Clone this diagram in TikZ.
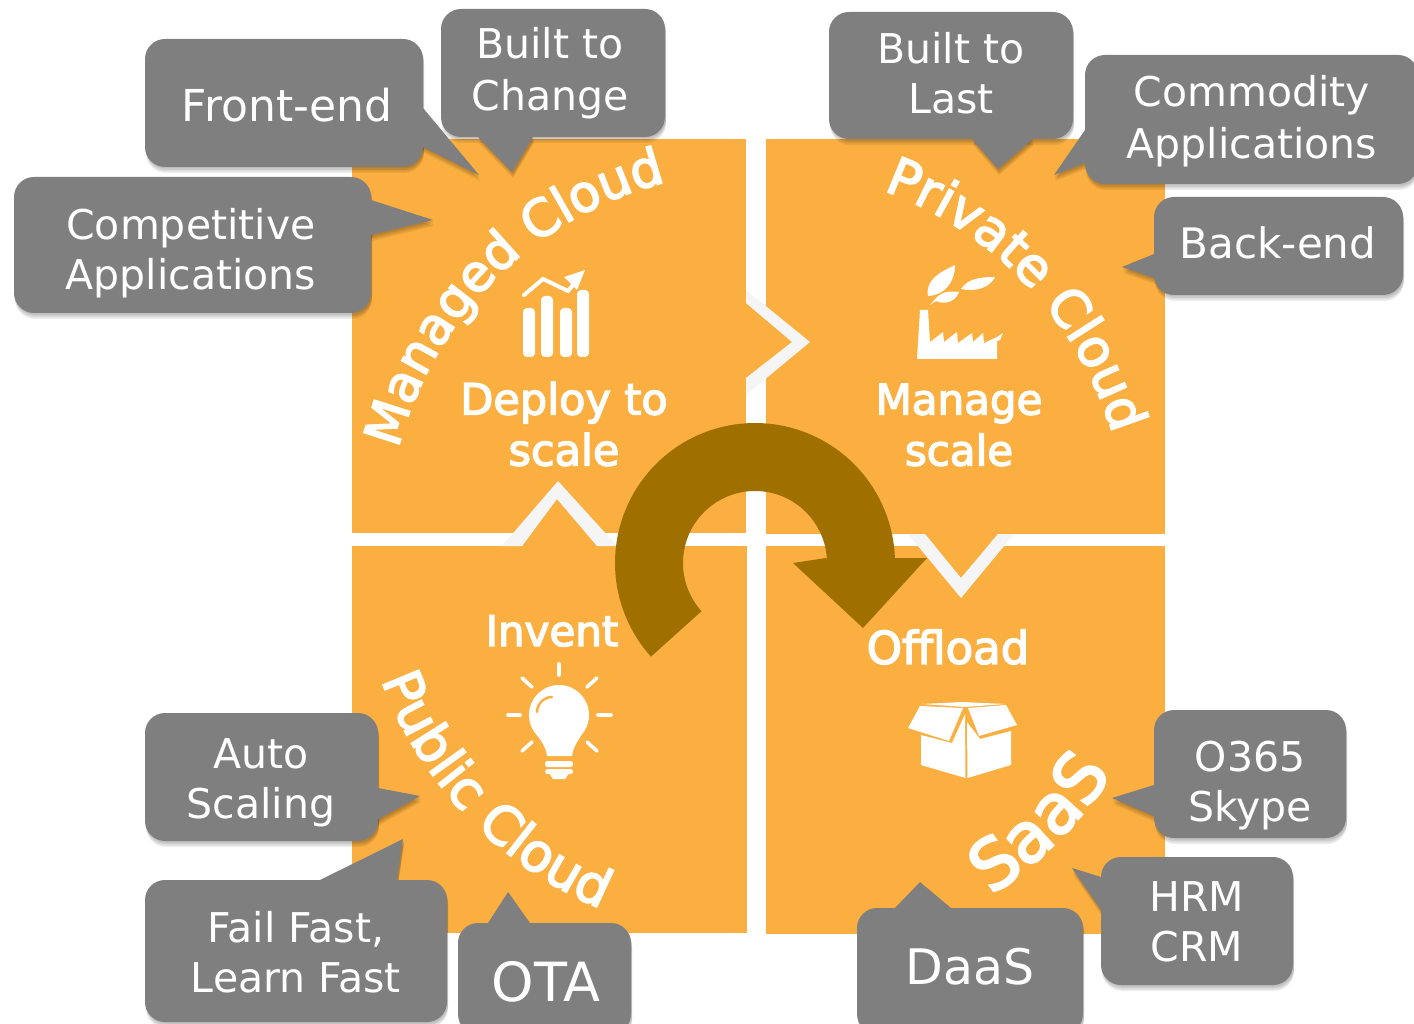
\documentclass[tikz,border=0pt]{standalone}
\usepackage{fontspec}
\setmainfont{DejaVu Sans}
\newfontfamily\semibold[FakeBold=3.2]{DejaVu Sans}
\usetikzlibrary{decorations.text}
\definecolor{quad}{HTML}{FBAF40}
\definecolor{bubble}{HTML}{7F7F7F}
\definecolor{turn}{HTML}{9F7000}
\definecolor{pale}{HTML}{F5F5F5}
\tikzset{
  quadrant/.style={fill=quad},
  notch/.style={fill=pale},
  icon/.style={fill=white},
  rays/.style={draw=white,line width=3.6pt,line cap=round},
  saytext/.style={text=white,align=center,inner sep=0pt,font=\fontsize{41}{50}\selectfont},
  widetext/.style={text=white,align=center,inner sep=0pt,font=\fontsize{41}{52}\selectfont},
  headtext/.style={text=white,align=center,inner sep=0pt,font=\semibold\fontsize{43}{51}\selectfont},
  curved/.style={decorate,decoration={text along path,text={#1}}}
}
\newcommand\callout[5]{%
  \foreach \dy in {1.5,3,4.5,6}{%
    \path[fill=black,opacity=.07,rounded corners=20,shift={(1,\dy)}] (#1,#2) rectangle (#3,#4);
    \path[fill=black,opacity=.07,shift={(1,\dy)}] #5 -- cycle;
  }%
  \path[fill=bubble,rounded corners=20] (#1,#2) rectangle (#3,#4);
  \path[fill=bubble] #5 -- cycle;
}
\newcommand\fmtA{\semibold\color{white}\fontsize{51}{50}\selectfont}
\newcommand\fmtB{\semibold\color{white}\fontsize{52}{50}\selectfont}
\newcommand\fmtC{\semibold\color{white}\fontsize{53}{50}\selectfont}
\newcommand\fmtD{\semibold\color{white}\fontsize{69}{50}\selectfont}
\begin{document}
\begin{tikzpicture}[x=1pt,y=-1pt]
\useasboundingbox (0,0) rectangle (1414,1024);
% quadrants
\path[quadrant] (352,139) rectangle (746,533);
\path[quadrant] (766,139) rectangle (1165,534);
\path[quadrant] (352,546) rectangle (747,933);
\path[quadrant] (766,546) rectangle (1165,934);
% interlocking wedges
\path[quadrant] (740,303) -- (746,303) -- (792,342) -- (746,378) -- (740,378) -- cycle;
\path[quadrant] (522,552) -- (522,546) -- (557,499) -- (597,546) -- (597,552) -- cycle;
\path[quadrant] (925,528) -- (925,534) -- (961,578) -- (998,534) -- (998,528) -- cycle;
\path[notch] (746,290) -- (810,342) -- (746,395) -- (746,378) -- (792,342) -- (746,303) -- cycle;
\path[notch] (502,546) -- (558,481) -- (617,546) -- (597,546) -- (557,499) -- (522,546) -- cycle;
\path[notch] (908,534) -- (961,598) -- (1014,534) -- (998,534) -- (961,578) -- (925,534) -- cycle;
% turning arrow
\path[fill=turn] plot[domain=138:358,samples=90] ({755+140*cos(\x)},{563+140*sin(\x)})
  -- (893,558) -- (927,558) -- (863,628) -- (793,563) -- (826,558)
  -- plot[domain=358:138,samples=90] ({755+72*cos(\x)},{563+72*sin(\x)}) -- cycle;
% curved titles
\path[curved={|\fmtA|Managed Cloud}] plot[domain=194.3:264,samples=70] ({756+369*cos(\x)},{540+369*sin(\x)});
\path[curved={|\fmtB|Private Cloud}] plot[domain=290:354,samples=70] ({756+372*cos(\x)},{540+372*sin(\x)});
\path[curved={|\fmtC|Public Cloud}] plot[domain=159.5:103,samples=70] ({756+400*cos(\x)},{540+400*sin(\x)});
\path[curved={|\fmtD|SaaS}] plot[domain=56.5:24,samples=50] ({756+426*cos(\x)},{540+426*sin(\x)});
% head texts
\node[headtext] (deploy) at (564,424) {Deploy to\\scale};
\node[headtext,font=\semibold\fontsize{42}{51}\selectfont] (manage) at (959,425) {Manage\\scale};
\node[headtext,font=\semibold\fontsize{42}{51}\selectfont] (invent) at (552,631) {Invent};
\node[headtext,font=\semibold\fontsize{45}{51}\selectfont] (offload) at (948,647) {Offload};
% chart icon
\foreach \xa/\xb/\ya in {523/535/308,541/553/296,560/572/308,577/589/290}{
  \path[icon,rounded corners=4] (\xa,\ya) rectangle (\xb,357);
}
\draw[white,line width=4pt,line cap=round,line join=miter] (524,295) -- (543,279) -- (568,291) -- (578,279);
\path[icon] (585,270) -- (564,277) -- (577,290) -- cycle;
% factory icon
\path[icon] (917,359) -- (920,310) -- (928,310) -- (930,342) -- (943,332) -- (944,342) -- (957,332) -- (958,343) -- (972,333) -- (973,342) -- (983,333) -- (984,343) -- (997,337) -- (1003,333) -- (1000,340) -- (997,341) -- (997,359) -- cycle;
\path[icon] (928,296) .. controls (925,280) and (940,272) .. (955,265) .. controls (955,282) and (945,295) .. (928,296) -- cycle;
\path[icon] (961,289) .. controls (968,278) and (982,277) .. (995,277) .. controls (990,288) and (975,292) .. (961,289) -- cycle;
\path[icon] (930,305) -- (936,298) .. controls (943,291) and (950,291) .. (959,292) .. controls (955,302) and (945,305) .. (936,301) -- cycle;
% lamp icon
\draw[rays] (559,664) -- (559,675);
\draw[rays] (508,715) -- (520,715);
\draw[rays] (598,715) -- (611,715);
\draw[rays] (522,678) -- (532,687);
\draw[rays] (597,678) -- (587,687);
\draw[rays] (522,751) -- (532,742);
\draw[rays] (597,751) -- (587,742);
\path[icon] (559,715) circle (30);
\path[icon] (533,728) .. controls (538,738) and (546,745) .. (547,756) -- (572,756) .. controls (573,745) and (581,738) .. (585,728) -- cycle;
\draw[quad,line width=2.4pt,line cap=round] (537,712) .. controls (537,704) and (544,697) .. (552,697);
\path[icon,rounded corners=2.5] (545,761) rectangle (573,767);
\path[icon,rounded corners=2.5] (545,769) rectangle (573,774);
\path[icon] (549,773) -- (569,773) -- (565,779) -- (553,779) -- cycle;
% box icon
\path[icon] (921,735) -- (952,743) -- (965,714) -- (965.5,778) -- (921,765) -- cycle;
\path[icon] (967,722) -- (980,739) -- (1011,731) -- (1011,765) -- (967.5,778) -- cycle;
\path[icon] (908,728) -- (920,706) -- (963,708) -- (949,741) -- cycle;
\path[icon] (968,708) -- (1006,705) -- (1017,725) -- (979,736) -- cycle;
\path[icon] (922,704) -- (962,702) -- (1005,704) -- (965,707) -- cycle;
% callouts
\callout{145}{39}{423}{167}{(423,108) -- (479,175) -- (423,147) -- (400,130)}
\node[saytext,font=\fontsize{44}{50}\selectfont] (frontend) at (287,105) {Front-end};
\callout{441}{9}{665}{137}{(478,137) -- (512,172) -- (533,137) -- (505,120)}
\node[widetext] (change) at (550,73) {Built to\\Change};
\callout{14}{177}{371}{313}{(371,200) -- (433,220) -- (371,235) -- (350,218)}
\node[saytext] (competitive) at (191,253) {Competitive\\Applications};
\callout{829}{12}{1073}{139}{(972,139) -- (998,169) -- (1033,139) -- (1000,120)}
\node[saytext] (last) at (951,73) {Built to\\Last};
\callout{1085}{55}{1418}{184}{(1085,130) -- (1054,175) -- (1085,163) -- (1105,150)}
\node[widetext] (commodity) at (1252,121) {Commodity\\Applications};
\callout{1154}{197}{1403}{295}{(1154,254) -- (1122,267) -- (1154,278) -- (1175,266)}
\node[saytext,font=\fontsize{42}{50}\selectfont] (backend) at (1278,243) {Back-end};
\callout{145}{713}{378}{841}{(378,788) -- (420,796) -- (377,820) -- (355,800)}
\node[saytext] (auto) at (261,783) {Auto\\Scaling};
\callout{145}{880}{447}{1022}{(320,880) -- (403,839) -- (397,880) -- (360,900)}
\node[saytext] (fail) at (296,952) {Fail Fast,\\Learn Fast};
\callout{458}{923}{631}{1034}{(488,923) -- (508,892) -- (530,923) -- (510,940)}
\node[saytext,font=\fontsize{54}{60}\selectfont] (ota) at (546,982) {OTA};
\callout{857}{908}{1083}{1034}{(895,908) -- (920,882) -- (951,908) -- (925,925)}
\node[saytext,font=\fontsize{49}{60}\selectfont] (daas) at (970,967) {DaaS};
\callout{1101}{857}{1293}{985}{(1101,877) -- (1072,868) -- (1101,910) -- (1125,890)}
\node[saytext] (hrm) at (1197,922) {HRM\\CRM};
\callout{1154}{710}{1346}{838}{(1154,785) -- (1112,798) -- (1154,816) -- (1175,800)}
\node[saytext] (skype) at (1250,786) {O365\\Skype};
\end{tikzpicture}
\end{document}
